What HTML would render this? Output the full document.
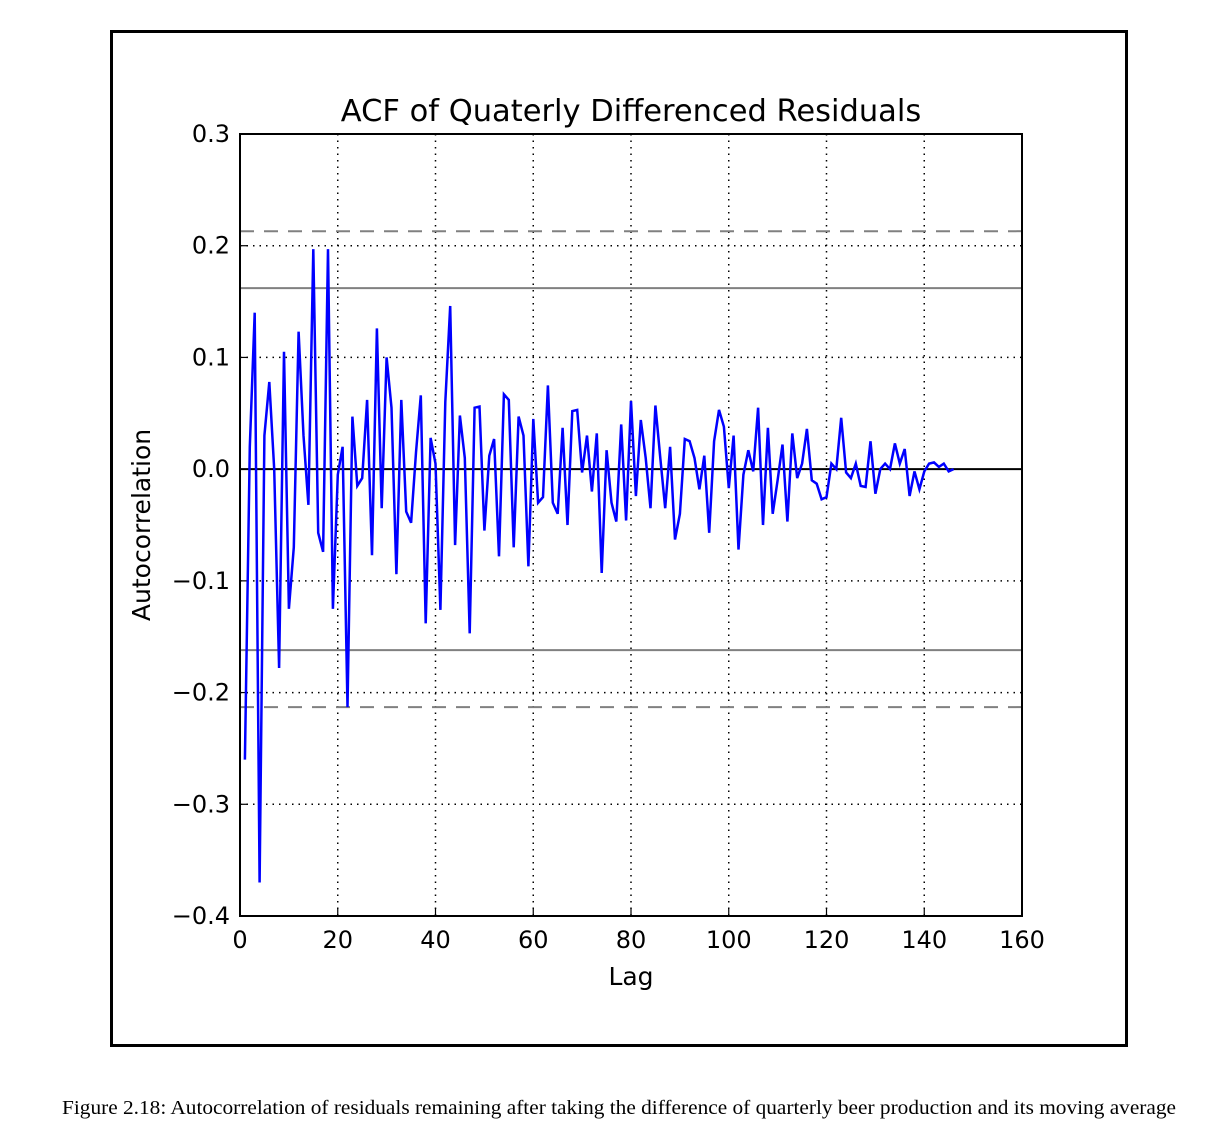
<!DOCTYPE html>
<html><head><meta charset="utf-8"><style>
body{margin:0;background:#fff;width:1210px;height:1138px;overflow:hidden}
svg text{font-family:"DejaVu Sans","Liberation Sans",sans-serif}
</style></head><body>
<svg width="1210" height="1138">
<rect x="111.5" y="31.5" width="1015" height="1014" fill="none" stroke="#000" stroke-width="3"/>
<g id="plot"></g>
<text x="619" y="1114" text-anchor="middle" font-size="20.5" textLength="1114" lengthAdjust="spacingAndGlyphs" style="font-family:'Liberation Serif',serif">Figure 2.18: Autocorrelation of residuals remaining after taking the difference of quarterly beer production and its moving average</text>
</svg>
<script>
const acfValues=[-0.26,0.02,0.14,-0.37,0.03,0.078,0.0,-0.178,0.105,-0.125,-0.07,0.123,0.03,-0.032,0.197,-0.057,-0.074,0.197,-0.125,-0.005,0.02,-0.213,0.047,-0.015,-0.008,0.062,-0.077,0.126,-0.035,0.1,0.055,-0.094,0.062,-0.038,-0.048,0.015,0.066,-0.138,0.028,0.005,-0.126,0.06,0.146,-0.068,0.048,0.01,-0.147,0.055,0.056,-0.055,0.012,0.027,-0.078,0.067,0.062,-0.07,0.047,0.03,-0.087,0.045,-0.03,-0.025,0.075,-0.03,-0.04,0.037,-0.05,0.052,0.053,-0.003,0.03,-0.02,0.032,-0.093,0.017,-0.03,-0.047,0.04,-0.046,0.061,-0.024,0.044,0.01,-0.035,0.057,0.01,-0.035,0.02,-0.063,-0.04,0.027,0.025,0.01,-0.018,0.012,-0.057,0.025,0.053,0.038,-0.017,0.03,-0.072,-0.005,0.017,-0.002,0.055,-0.05,0.037,-0.04,-0.01,0.022,-0.047,0.032,-0.008,0.005,0.036,-0.01,-0.013,-0.027,-0.025,0.005,0.0,0.046,-0.003,-0.008,0.005,-0.015,-0.016,0.025,-0.022,0.0,0.005,0.0,0.023,0.005,0.018,-0.024,-0.002,-0.018,-0.002,0.005,0.006,0.002,0.005,-0.002,0.0];
const xTicks=[0,20,40,60,80,100,120,140,160];
const yTicks=[0.3,0.2,0.1,0.0,-0.1,-0.2,-0.3,-0.4];
const yTickLabels=["0.3","0.2","0.1","0.0","\u22120.1","\u22120.2","\u22120.3","\u22120.4"];
const conf95=[0.162];
const conf99=[0.213];
const L=240,R=1022,T=134,B=916;
const X=v=>L+(v-0)/(160-0)*(R-L);
const Y=v=>T+(0.3-v)/(0.7)*(B-T);
const g=document.getElementById('plot');
const NS='http://www.w3.org/2000/svg';
function mk(t,a,p){const e=document.createElementNS(NS,t);for(const k in a)e.setAttribute(k,a[k]);(p||g).appendChild(e);return e;}
xTicks.forEach(t=>{
 if(t>0&&t<160){const e=mk('line',{x1:X(t),x2:X(t),y1:T,y2:B,stroke:'#000','stroke-width':1.5,'stroke-dasharray':'1.5 5'});
 
 }
 const tx=mk('text',{x:X(t),y:B+32,'text-anchor':'middle','font-size':24});tx.textContent=t;
 
 
 mk('line',{x1:X(t),x2:X(t),y1:B,y2:B-8,stroke:'#000','stroke-width':1.2});
});
yTicks.forEach((t,i)=>{
 if(t<0.3&&t>-0.4&&t!==0){const e=mk('line',{x1:L,x2:R,y1:Y(t),y2:Y(t),stroke:'#000','stroke-width':1.5,'stroke-dasharray':'1.5 5'});
 
 }
 const tx=mk('text',{x:L-10,y:Y(t)+8,'text-anchor':'end','font-size':24});tx.textContent=yTickLabels[i];
 
 
 mk('line',{x1:L,x2:L+8,y1:Y(t),y2:Y(t),stroke:'#000','stroke-width':1.2});
});
[conf95[0],-conf95[0]].forEach(c=>{const e=mk('line',{x1:L,x2:R,y1:Y(c),y2:Y(c),stroke:'#808080','stroke-width':2});
 
 });
[conf99[0],-conf99[0]].forEach(c=>{const e=mk('line',{x1:L,x2:R,y1:Y(c),y2:Y(c),stroke:'#808080','stroke-width':2,'stroke-dasharray':'14 10'});
 
 });
const z=mk('line',{x1:L,x2:R,y1:Y(0),y2:Y(0),stroke:'#000','stroke-width':2});


const pts=acfValues.map((v,i)=>X(i+1).toFixed(1)+','+Y(v).toFixed(1)).join(' ');
const pl=mk('polyline',{points:pts,fill:'none',stroke:'#0000ff','stroke-width':2.5,'stroke-linejoin':'miter'});


const fr=mk('rect',{x:L,y:T,width:R-L,height:B-T,fill:'none',stroke:'#000','stroke-width':2});


const ti=mk('text',{x:(L+R)/2,y:121,'text-anchor':'middle','font-size':30.5});ti.textContent='ACF of Quaterly Differenced Residuals';


const xl=mk('text',{x:(L+R)/2,y:985,'text-anchor':'middle','font-size':25});xl.textContent='Lag';


const yl=mk('text',{x:0,y:0,'text-anchor':'middle','font-size':25,transform:'translate(150,525) rotate(-90)'});yl.textContent='Autocorrelation';


</script>
</body></html>
